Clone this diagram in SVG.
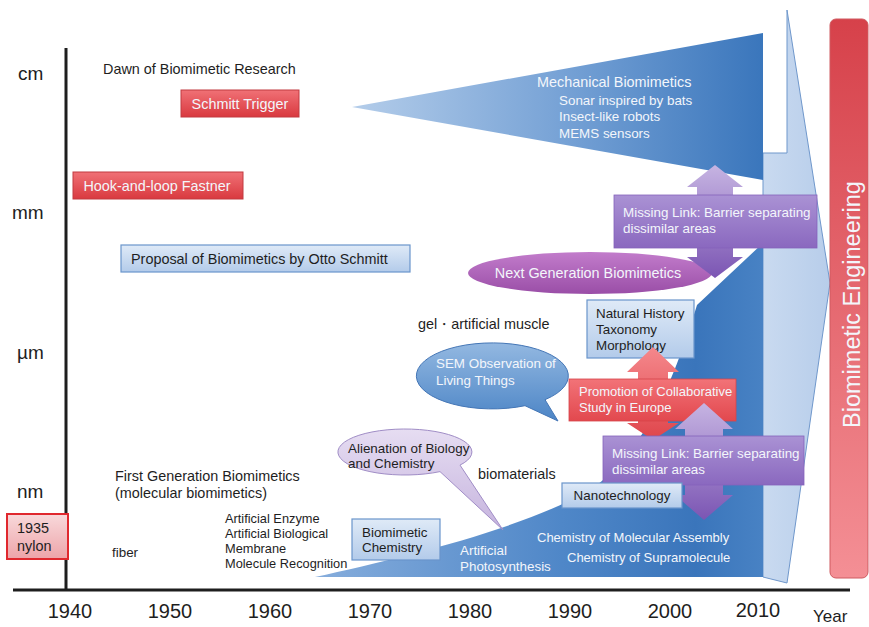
<svg xmlns="http://www.w3.org/2000/svg" width="869" height="627" viewBox="0 0 869 627">
<defs>
<linearGradient id="gBig" x1="0" y1="0" x2="1" y2="0"><stop offset="0" stop-color="#c9daf0"/><stop offset="1" stop-color="#b7cdea"/></linearGradient>
<linearGradient id="gTri" x1="352" y1="0" x2="763" y2="0" gradientUnits="userSpaceOnUse"><stop offset="0" stop-color="#b4cdea"/><stop offset="0.5" stop-color="#78a3d6"/><stop offset="1" stop-color="#3a76bc"/></linearGradient>
<linearGradient id="gLow" x1="315" y1="0" x2="763" y2="0" gradientUnits="userSpaceOnUse"><stop offset="0" stop-color="#86addc"/><stop offset="0.55" stop-color="#4f87c8"/><stop offset="0.85" stop-color="#3a75bb"/><stop offset="1" stop-color="#4882c4"/></linearGradient>
<linearGradient id="gRed" x1="0" y1="0" x2="0" y2="1"><stop offset="0" stop-color="#f07176"/><stop offset="1" stop-color="#d9393f"/></linearGradient>
<linearGradient id="gBox" x1="0" y1="0" x2="0" y2="1"><stop offset="0" stop-color="#dfeaf7"/><stop offset="1" stop-color="#b3cbea"/></linearGradient>
<linearGradient id="gPur" x1="0" y1="0" x2="0" y2="1"><stop offset="0" stop-color="#aa92d4"/><stop offset="1" stop-color="#8a68bf"/></linearGradient>
<linearGradient id="gPurArr" x1="0" y1="0" x2="0" y2="1"><stop offset="0" stop-color="#c6b4e2"/><stop offset="1" stop-color="#7b55b3"/></linearGradient>
<linearGradient id="gRedArr" x1="0" y1="0" x2="0" y2="1"><stop offset="0" stop-color="#f5888c"/><stop offset="1" stop-color="#df454b"/></linearGradient>
<linearGradient id="gProm" x1="0" y1="0" x2="0" y2="1"><stop offset="0" stop-color="#f27378"/><stop offset="1" stop-color="#e2484e"/></linearGradient>
<linearGradient id="gNext" x1="0" y1="0" x2="0" y2="1"><stop offset="0" stop-color="#c27ccb"/><stop offset="1" stop-color="#9a4ea7"/></linearGradient>
<linearGradient id="gSem" x1="0" y1="0" x2="0" y2="1"><stop offset="0" stop-color="#93b8e1"/><stop offset="1" stop-color="#4c85c6"/></linearGradient>
<linearGradient id="gAlien" x1="0" y1="0" x2="0" y2="1"><stop offset="0" stop-color="#e6ddf2"/><stop offset="1" stop-color="#c6b4de"/></linearGradient>
<linearGradient id="gNylon" x1="0" y1="0" x2="0" y2="1"><stop offset="0" stop-color="#f8d9db"/><stop offset="1" stop-color="#eda4a9"/></linearGradient>
<linearGradient id="gEng" x1="0" y1="0" x2="0" y2="1"><stop offset="0" stop-color="#d6414a"/><stop offset="1" stop-color="#f48f95"/></linearGradient>
</defs>
<style>
.t{font-family:"Liberation Sans",Arial,Helvetica,sans-serif;fill:#1e1e1e;font-size:14.4px}
.s13{font-size:13.4px}
.w{fill:#f3f6fb}
.lab{font-size:19px}
.yr{font-size:20px;text-anchor:middle}
.redbox{fill:url(#gRed);stroke:#c23a40;stroke-width:1}
.bluebox{fill:url(#gBox);stroke:#6a95cb;stroke-width:1.2}
.purbox{fill:url(#gPur);stroke:#8463bb;stroke-width:0.8}
.mid{text-anchor:middle}
</style>

<g id="background-shapes">
<path id="engineering-arrow" d="M787,10 L830,283 L787,583 L763,577 L763,153 L787,153 Z" fill="url(#gBig)" stroke="#6f97cb" stroke-width="1"/>
<polygon id="mechanical-wedge" points="352,107 763,33 763,180" fill="url(#gTri)"/>
<path id="molecular-wedge" d="M315,577 C400,558 520,530 590,490 C650,450 680,360 697,305 L763,243 L763,577 Z" fill="url(#gLow)"/>
</g>

<g id="axes">
<line x1="66" y1="48" x2="66" y2="590" stroke="#1e1e1e" stroke-width="3"/>
<line x1="13" y1="590" x2="850" y2="590" stroke="#1e1e1e" stroke-width="3"/>
<text class="t lab" x="18" y="80">cm</text>
<text class="t lab" x="12" y="219">mm</text>
<text class="t lab" x="17" y="359">µm</text>
<text class="t lab" x="17" y="498">nm</text>
<text class="t yr" x="70" y="618">1940</text>
<text class="t yr" x="170" y="618">1950</text>
<text class="t yr" x="270" y="618">1960</text>
<text class="t yr" x="370" y="618">1970</text>
<text class="t yr" x="470" y="618">1980</text>
<text class="t yr" x="570" y="618">1990</text>
<text class="t yr" x="670" y="618">2000</text>
<text class="t yr" x="758" y="617">2010</text>
<text class="t" x="813" y="622" style="font-size:17px">Year</text>
</g>

<g id="engineering">
<rect x="830" y="19" width="38" height="559" rx="6" fill="url(#gEng)" stroke="#cf5a60" stroke-width="1"/>
<text class="t w mid" transform="translate(860,304.5) rotate(-90)" style="font-size:23.5px">Biomimetic Engineering</text>
</g>

<g id="dawn"><text class="t" x="103" y="74">Dawn of Biomimetic Research</text></g>

<g id="schmitt-trigger">
<rect class="redbox" x="181" y="90" width="118" height="27"/>
<text class="t w mid" x="240" y="109">Schmitt Trigger</text>
</g>

<g id="hook-and-loop">
<rect class="redbox" x="73" y="172" width="170" height="27"/>
<text class="t w mid" x="157" y="191">Hook-and-loop Fastner</text>
</g>

<g id="proposal">
<rect class="bluebox" x="121" y="245" width="289" height="27"/>
<text class="t" x="131" y="264">Proposal of Biomimetics by Otto Schmitt</text>
</g>

<g id="mechanical">
<text class="t w" x="537" y="87">Mechanical Biomimetics</text>
<text class="t w s13" x="559" y="105">Sonar inspired by bats</text>
<text class="t w s13" x="559" y="121">Insect-like robots</text>
<text class="t w s13" x="559" y="138">MEMS sensors</text>
</g>

<g id="gel"><text class="t" x="418" y="329">gel・artificial muscle</text></g>

<g id="first-generation">
<text class="t" x="115" y="481">First Generation Biomimetics</text>
<text class="t" x="115" y="498">(molecular biomimetics)</text>
</g>

<g id="molecular-topics">
<text class="t" x="225" y="523" style="font-size:12.8px">Artificial Enzyme</text>
<text class="t" x="225" y="538" style="font-size:12.8px">Artificial Biological</text>
<text class="t" x="225" y="553" style="font-size:12.8px">Membrane</text>
<text class="t" x="225" y="568" style="font-size:12.8px">Molecule Recognition</text>
</g>

<g id="fiber"><text class="t s13" x="112" y="557">fiber</text></g>

<g id="nylon">
<rect x="7" y="514" width="61" height="45" fill="url(#gNylon)" stroke="#e0282e" stroke-width="2"/>
<text class="t" x="17" y="533">1935</text>
<text class="t" x="17" y="551">nylon</text>
</g>

<g id="biomaterials"><text class="t" x="478" y="479">biomaterials</text></g>

<g id="chemistry-labels">
<text class="t w s13" x="460" y="555">Artificial</text>
<text class="t w s13" x="460" y="571">Photosynthesis</text>
<text class="t w" x="537" y="542" style="font-size:13px">Chemistry of Molecular Assembly</text>
<text class="t w" x="567" y="562" style="font-size:13px">Chemistry of Supramolecule</text>
</g>

<g id="next-generation">
<ellipse cx="590" cy="273" rx="122" ry="21" fill="url(#gNext)"/>
<text class="t w mid" x="588" y="278">Next Generation Biomimetics</text>
</g>

<g id="natural-history">
<rect class="bluebox" x="587" y="300" width="107" height="58"/>
<text class="t s13" x="596" y="318">Natural History</text>
<text class="t s13" x="596" y="334">Taxonomy</text>
<text class="t s13" x="596" y="350">Morphology</text>
</g>

<g id="connectors">
<polygon id="arrow-missing-upper" points="715,165 743,187 733,187 733,257 743,257 715,278 687,257 697,257 697,187 687,187" fill="url(#gPurArr)"/>
<polygon id="arrow-promotion" points="653,347 679,372 668,372 668,423 679,423 653,440 627,423 638,423 638,372 627,372" fill="url(#gRedArr)"/>
</g>

<g id="missing-link-upper">
<rect class="purbox" x="614" y="195" width="203" height="53"/>
<text class="t w s13" x="623" y="217">Missing Link: Barrier separating</text>
<text class="t w s13" x="623" y="233">dissimilar areas</text>
</g>

<g id="promotion">
<rect x="569" y="379" width="167" height="42" fill="url(#gProm)" stroke="#d6444a" stroke-width="0.8"/>
<text class="t w" x="579" y="396" style="font-size:13px">Promotion of Collaborative</text>
<text class="t w" x="579" y="412" style="font-size:13px">Study in Europe</text>
</g>

<g id="connectors-lower">
<polygon id="arrow-missing-lower" points="704,403 733,429 723,429 723,495 733,495 704,520 675,495 685,495 685,429 675,429" fill="url(#gPurArr)"/>
</g>

<g id="missing-link-lower">
<rect class="purbox" x="603" y="436" width="201" height="49"/>
<text class="t w s13" x="612" y="458">Missing Link: Barrier separating</text>
<text class="t w s13" x="612" y="474">dissimilar areas</text>
</g>

<g id="nanotechnology">
<rect class="bluebox" x="562" y="483" width="120" height="25"/>
<text class="t s13 mid" x="622" y="500">Nanotechnology</text>
</g>

<g id="sem-observation">
<path d="M525,405.7 A76 33 0 1 1 545,399.7 L558,421 Z" fill="url(#gSem)" stroke="#4476b6" stroke-width="1"/>
<text class="t w s13" x="436" y="368">SEM Observation of</text>
<text class="t w s13" x="436" y="385">Living Things</text>
</g>

<g id="alienation">
<path d="M440,471.6 A67 23 0 1 1 460,465.1 L503,530 Z" fill="url(#gAlien)" stroke="#a08dc6" stroke-width="1"/>
<text class="t s13" x="348" y="453">Alienation of Biology</text>
<text class="t s13" x="348" y="468">and Chemistry</text>
</g>

<g id="biomimetic-chemistry">
<rect class="bluebox" x="352" y="519" width="88" height="41"/>
<text class="t s13" x="362" y="537">Biomimetic</text>
<text class="t s13" x="362" y="552">Chemistry</text>
</g>
</svg>
